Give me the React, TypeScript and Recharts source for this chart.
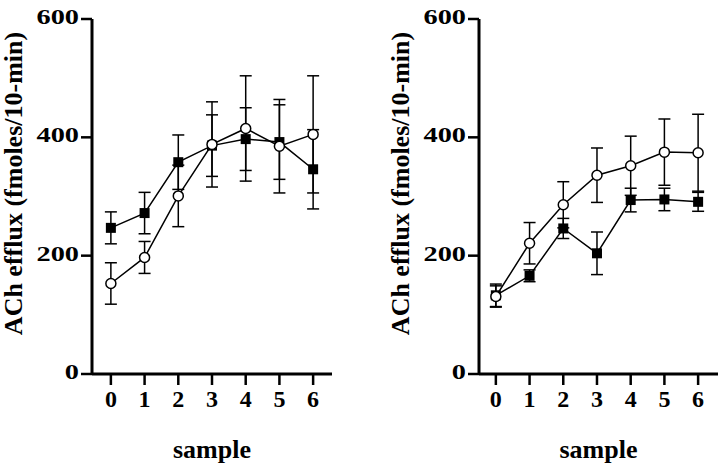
import React from 'react';
import { LineChart, Line, XAxis, YAxis, ErrorBar } from 'recharts';

const samples = [0, 1, 2, 3, 4, 5, 6];
const yTicks = [0, 200, 400, 600];

// Left panel
const leftSquare = [247, 272, 358, 386, 397, 392, 346];
const leftSquareErr = [27, 35, 46, 52, 53, 63, 67];
const leftCircle = [153, 197, 301, 388, 415, 385, 405];
const leftCircleErr = [35, 27, 52, 72, 89, 79, 99];

// Right panel
const rightSquare = [133, 166, 246, 204, 294, 295, 291];
const rightSquareErr = [19, 10, 17, 36, 20, 19, 16];
const rightCircle = [131, 221, 286, 336, 352, 375, 374];
const rightCircleErr = [18, 35, 39, 46, 50, 56, 65];

const FONT = '"Liberation Serif", "Times New Roman", serif';

function buildRows(sq: number[], sqE: number[], ci: number[], ciE: number[]) {
  return samples.map((s, i) => ({ sample: s, sq: sq[i], sqErr: sqE[i], ci: ci[i], ciErr: ciE[i] }));
}

const leftRows = buildRows(leftSquare, leftSquareErr, leftCircle, leftCircleErr);
const rightRows = buildRows(rightSquare, rightSquareErr, rightCircle, rightCircleErr);

const YTick = (props: any) => {
  const { x, y, payload } = props;
  return (
    <text
      transform={`translate(${x},${y + 5}) scale(1.35,1)`}
      textAnchor="end"
      fontFamily={FONT}
      fontWeight="bold"
      fontSize={21}
      fill="#000"
    >
      {payload.value}
    </text>
  );
};

const XTick = (props: any) => {
  const { x, y, payload } = props;
  return (
    <text x={x} y={y + 20} textAnchor="middle" fontFamily={FONT} fontWeight="bold" fontSize={24} fill="#000">
      {payload.value}
    </text>
  );
};

const YLabel = (props: any) => {
  const vb = props.viewBox || { x: 0, y: 19, width: 92, height: 355 };
  const x = vb.x + vb.width - 70;
  const y = vb.y + vb.height / 2 - 13;
  return (
    <text
      x={x}
      y={y}
      transform={`rotate(-90, ${x}, ${y})`}
      textAnchor="middle"
      fontFamily={FONT}
      fontWeight="bold"
      fontSize={26}
      fill="#000"
    >
      ACh efflux (fmoles/10-min)
    </text>
  );
};

const XLabel = (props: any) => {
  const vb = props.viewBox || { x: 92, y: 374, width: 240, height: 60 };
  return (
    <text
      x={vb.x + vb.width / 2}
      y={vb.y + 84}
      textAnchor="middle"
      fontFamily={FONT}
      fontWeight="bold"
      fontSize={26}
      fill="#000"
    >
      sample
    </text>
  );
};

const squareDot = (p: any) => {
  if (p.cx == null || p.cy == null) return <g key={`sq-${p.index}`} />;
  return <rect key={`sq-${p.index}`} x={p.cx - 5} y={p.cy - 5} width={10} height={10} fill="#000" />;
};

const circleDot = (p: any) => {
  if (p.cx == null || p.cy == null) return <g key={`ci-${p.index}`} />;
  return <circle key={`ci-${p.index}`} cx={p.cx} cy={p.cy} r={5} fill="#fff" stroke="#000" strokeWidth={1.5} />;
};

function Panel({ rows, left, yAxisWidth, rightMargin, domain }: any) {
  return (
    <div style={{ position: 'absolute', left, top: 0 }}>
      <LineChart width={360} height={467} data={rows} margin={{ top: 19, right: rightMargin, left: 0, bottom: 33 }}>
        <XAxis
          dataKey="sample"
          type="number"
          domain={domain}
          ticks={samples}
          allowDataOverflow
          interval={0}
          height={60}
          tickSize={11}
          tickMargin={2}
          tick={<XTick />}
          axisLine={{ stroke: '#000', strokeWidth: 3 }}
          tickLine={{ stroke: '#000', strokeWidth: 2.5 }}
          label={<XLabel />}
        />
        <YAxis
          type="number"
          domain={[0, 600]}
          ticks={yTicks}
          interval={0}
          width={yAxisWidth}
          tickSize={11}
          tickMargin={2}
          tick={<YTick />}
          axisLine={{ stroke: '#000', strokeWidth: 3 }}
          tickLine={{ stroke: '#000', strokeWidth: 2.5 }}
          label={<YLabel />}
        />
        <Line
          dataKey="sq"
          type="linear"
          stroke="#000"
          strokeWidth={1.5}
          dot={squareDot}
          activeDot={false}
          isAnimationActive={false}
        >
          <ErrorBar dataKey="sqErr" direction="y" width={6} stroke="#000" strokeWidth={1.5} />
        </Line>
        <Line
          dataKey="ci"
          type="linear"
          stroke="#000"
          strokeWidth={1.5}
          dot={circleDot}
          activeDot={false}
          isAnimationActive={false}
        >
          <ErrorBar dataKey="ciErr" direction="y" width={6} stroke="#000" strokeWidth={1.5} />
        </Line>
      </LineChart>
    </div>
  );
}

export default function App() {
  return (
    <div style={{ position: 'absolute', left: 0, top: 0, width: 720, height: 467, background: '#fff' }}>
      <Panel rows={leftRows} left={0} yAxisWidth={92} rightMargin={28} domain={[-0.56, 6.56]} />
      <Panel rows={rightRows} left={360} yAxisWidth={119} rightMargin={2} domain={[-0.5, 6.59]} />
    </div>
  );
}
